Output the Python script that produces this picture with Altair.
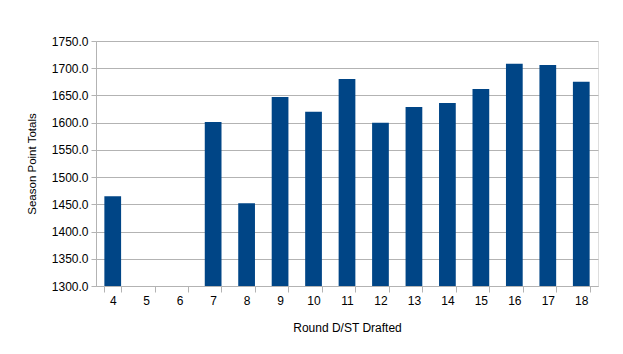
import altair as alt
import pandas as pd

rounds = [4, 5, 6, 7, 8, 9, 10, 11, 12, 13, 14, 15, 16, 17, 18]
points = [1465, None, None, 1601, 1452, 1647, 1620, 1680, 1600, 1629, 1636, 1662, 1708, 1706, 1675]

df = pd.DataFrame({"round": [str(r) for r in rounds], "points": points})

font = "Liberation Sans"
grey = "#b3b3b3"

chart = alt.Chart(df).mark_bar(color="#004586", clip=True).encode(
    x=alt.X("round:N", sort=[str(r) for r in rounds],
            scale=alt.Scale(domain=[str(r) for r in rounds], paddingInner=0.5, paddingOuter=0.25),
            axis=alt.Axis(title="Round D/ST Drafted", labelAngle=0, tickBand="extent",
                          domainColor=grey, tickColor=grey, tickSize=6, labelPadding=3,
                          labelFontSize=12, titleFontSize=12, titleFontWeight="normal",
                          labelColor="#000", titleColor="#000", titlePadding=16, grid=False)),
    y=alt.Y("points:Q", scale=alt.Scale(domain=[1300, 1750], zero=False, nice=False),
            axis=alt.Axis(title="Season Point Totals", format=".1f", values=list(range(1300, 1751, 50)),
                          domainColor=grey, tickColor=grey, tickSize=5, gridColor=grey,
                          labelFontSize=12, titleFontSize=11.5, titleFontWeight="normal",
                          labelColor="#000", titleColor="#000", titlePadding=14, labelPadding=3)),
).properties(
    width=502, height=245,
    autosize=alt.AutoSizeParams(type="none"),
    padding={"left": 96, "top": 41, "right": 25, "bottom": 68},
).configure_view(stroke=grey, strokeWidth=1).configure_axis(labelFont=font, titleFont=font).configure(background="white")

chart.save("out.html", embed_options={"renderer": "svg", "actions": False})
